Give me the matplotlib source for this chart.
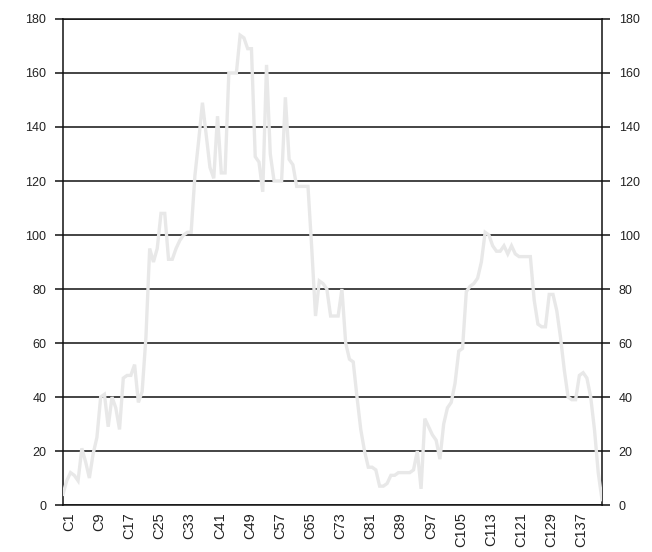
"""light grey line over categories C1..C144, black grid, y axis on both sides"""
import matplotlib
matplotlib.use('Agg')
import matplotlib.pyplot as plt
import matplotlib.transforms as mtransforms

values = [4, 9, 12, 11, 9, 21, 16, 10, 19, 25,
          40, 41, 29, 40, 36, 28, 47, 48, 48, 52,
          38, 42, 62, 95, 90, 95, 108, 108, 91, 91,
          95, 98, 100, 101, 101, 122, 135, 149, 137, 125,
          121, 144, 123, 123, 160, 160, 160, 174, 173, 169,
          169, 129, 127, 116, 163, 130, 120, 120, 120, 151,
          128, 126, 118, 118, 118, 118, 95, 70, 83, 82,
          80, 70, 70, 70, 80, 60, 54, 53, 40, 28,
          20, 14, 14, 13, 7, 7, 8, 11, 11, 12,
          12, 12, 12, 13, 20, 6, 32, 29, 26, 24,
          17, 30, 36, 38, 45, 57, 58, 79, 81, 82,
          84, 90, 101, 100, 96, 94, 94, 96, 93, 96,
          93, 92, 92, 92, 92, 76, 67, 66, 66, 78,
          78, 72, 62, 50, 40, 39, 39, 48, 49, 47,
          40, 28, 12, 2]
categories = ['C%d' % (i + 1) for i in range(len(values))]
y_ticks = [0, 20, 40, 60, 80, 100, 120, 140, 160, 180]

plt.rcParams['font.family'] = ['Liberation Sans', 'DejaVu Sans']

fig = plt.figure(figsize=(6.52, 5.52), dpi=100)
ax = fig.add_axes([0.0966, 0.0851, 0.8267, 0.8805])

x = list(range(len(values)))
ax.plot(x, values, color='#e8e8e8', lw=2.4, zorder=3, solid_joinstyle='miter')

ax.set_xlim(0, len(values) - 1)
ax.set_ylim(0, 180)
ax.set_yticks(y_ticks)
ax.grid(axis='y', color='#111111', lw=1.1, zorder=1)
ax.set_axisbelow(True)

# every 8th category gets a label
ax.set_xticks(x[::8])
ax.set_xticklabels(categories[::8], rotation=90, fontsize=10.5, va='top')
ax.tick_params(axis='x', length=0, pad=5, colors='#222222')
ax.tick_params(axis='y', left=True, right=True, labelleft=True, labelright=True,
               length=6, width=1.1, direction='out', labelsize=9,
               color='#111111', labelcolor='#222222')
ax.tick_params(axis='y', which='major', pad=6)

offset = mtransforms.ScaledTranslation(6 / 100, 0, fig.dpi_scale_trans)
for lab in ax.get_xticklabels():
    lab.set_transform(lab.get_transform() + offset)

for side in ['left', 'right', 'bottom', 'top']:
    ax.spines[side].set_color('#111111')
    ax.spines[side].set_linewidth(1.1)

fig.savefig('out.png', dpi=100)
